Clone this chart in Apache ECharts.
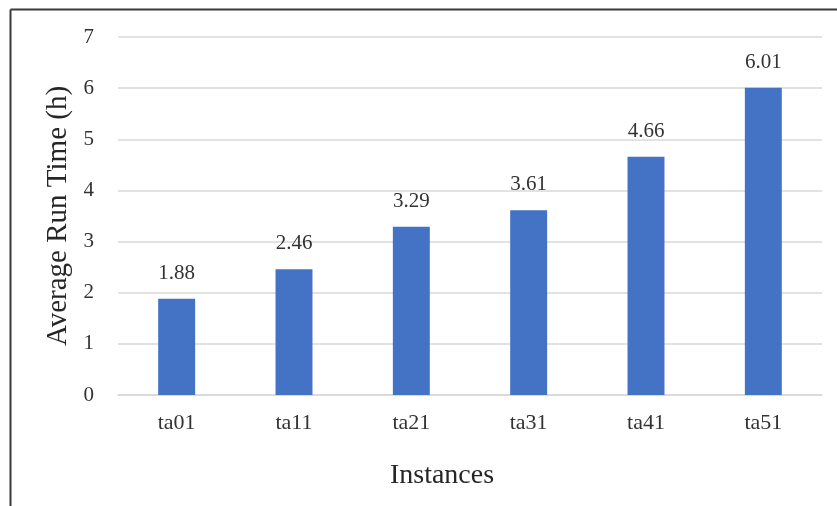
<!DOCTYPE html>
<html>
<head>
<meta charset="utf-8">
<script src="https://cdn.jsdelivr.net/npm/echarts@6/dist/echarts.min.js"></script>
<style>
  html, body { margin: 0; padding: 0; background: #fff; }
  #chart { width: 837px; height: 506px; }
</style>
</head>
<body>
<div id="chart"></div>
<script>
// Benchmark instances and their mean run times (hours)
const instances = ['ta01', 'ta11', 'ta21', 'ta31', 'ta41', 'ta51'];
const avgRunTime = [1.88, 2.46, 3.29, 3.61, 4.66, 6.01];
const yTicks = [0, 1, 2, 3, 4, 5, 6, 7];

const serif = '"Liberation Serif", "DejaVu Serif", serif';
const chart = echarts.init(document.getElementById('chart'));

chart.setOption({
  animation: false,
  backgroundColor: '#ffffff',
  graphic: [
    { type: 'line', shape: { x1: 10.5, y1: 9.5, x2: 837, y2: 9.5 }, style: { stroke: '#3a3a3a', lineWidth: 2 } },
    { type: 'line', shape: { x1: 10.5, y1: 9.5, x2: 10.5, y2: 506 }, style: { stroke: '#3a3a3a', lineWidth: 2 } }
  ],
  grid: { left: 118, right: 15, top: 37, bottom: 111, containLabel: false },
  xAxis: {
    type: 'category',
    data: instances,
    name: 'Instances',
    nameLocation: 'middle',
    nameGap: 67,
    // title sits centred on the whole chart body rather than the plot area
    nameTextStyle: { fontFamily: serif, fontSize: 28, color: '#262626', padding: [0, 56, 0, 0] },
    axisLine: { show: true, lineStyle: { color: '#d9d9d9', width: 1.5 } },
    axisTick: { show: false },
    axisLabel: { fontFamily: serif, fontSize: 22, color: '#333', margin: 17 }
  },
  yAxis: {
    type: 'value',
    min: yTicks[0],
    max: yTicks[yTicks.length - 1],
    interval: 1,
    name: 'Average Run Time (h)',
    nameLocation: 'middle',
    nameGap: 45,
    nameTextStyle: { fontFamily: serif, fontSize: 29, color: '#262626' },
    axisLine: { show: false },
    axisTick: { show: false },
    axisLabel: { fontFamily: serif, fontSize: 21, color: '#333', margin: 24 },
    splitLine: { lineStyle: { color: '#d9d9d9', width: 1.5 } }
  },
  series: [{
    type: 'bar',
    data: avgRunTime,
    barWidth: '31.5%',
    itemStyle: { color: '#4472C4' },
    label: {
      show: true,
      position: 'top',
      distance: 15,
      fontFamily: serif,
      fontSize: 21,
      color: '#333',
      formatter: p => p.value.toFixed(2)
    }
  }]
});
</script>
</body>
</html>
